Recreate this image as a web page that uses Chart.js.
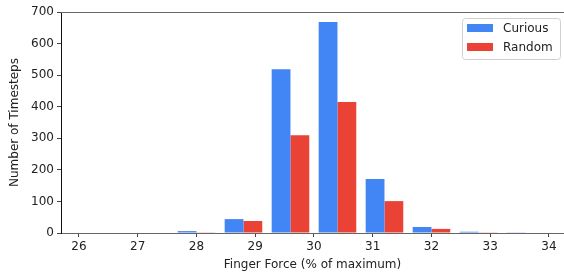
<!DOCTYPE html>
<html>
<head>
<meta charset="utf-8">
<script src="https://cdn.jsdelivr.net/npm/chart.js@4/dist/chart.umd.min.js"></script>
<style>
  html, body { margin: 0; padding: 0; background: #fff; }
  #wrap { width: 564px; height: 278px; }
</style>
</head>
<body>
<div id="wrap"><canvas id="myChart" width="564" height="278"></canvas></div>
<script>
// histogram bin centres (finger force, % of max)
const bins = [26.4, 27.2, 28.0, 28.8, 29.6, 30.4, 31.2, 32.0, 32.8, 33.6];
const curious = [0, 0, 6, 44, 519, 668, 171, 19, 4, 1];
const random = [0, 0, 1, 38, 310, 415, 101, 13, 1, 0];
const seriesNames = ['Curious', 'Random'];
const yTicks = [0, 100, 200, 300, 400, 500, 600, 700];

const FONT = 'DejaVu Sans';

function toPoints(values) {
    return bins.map((b, i) => ({ x: b, y: values[i] }));
}

// top spine + legend box inside the plot, matplotlib style
const frameAndLegend = {
    id: 'frameAndLegend',
    afterDraw(chart) {
        const ctx = chart.ctx;
        const area = chart.chartArea;
        ctx.save();
        ctx.strokeStyle = '#666';
        ctx.lineWidth = 1;
        ctx.beginPath();
        ctx.moveTo(area.left, area.top + 0.5);
        ctx.lineTo(area.right, area.top + 0.5);
        ctx.stroke();

        const bx = 462, by = 18, bw = 98, bh = 41;
        ctx.fillStyle = 'rgba(255,255,255,0.8)';
        ctx.strokeStyle = '#d0d0d0';
        ctx.beginPath();
        ctx.roundRect(bx + 0.5, by + 0.5, bw, bh, 3);
        ctx.fill();
        ctx.stroke();

        ctx.font = '12px "' + FONT + '"';
        ctx.textBaseline = 'middle';
        chart.data.datasets.forEach((ds, i) => {
            const y = by + 6 + i * 19;
            ctx.fillStyle = ds.backgroundColor;
            ctx.fillRect(bx + 5, y, 26, 8);
            ctx.fillStyle = '#222';
            ctx.fillText(ds.label, bx + 41, y + 4.5);
        });
        ctx.restore();
    }
};

const ctx = document.getElementById('myChart').getContext('2d');
const myChart = new Chart(ctx, {
    type: 'bar',
    data: {
        datasets: [{
            label: seriesNames[0],
            data: toPoints(curious),
            backgroundColor: '#4285F4',
            categoryPercentage: 0.8,
            barPercentage: 1.0
        }, {
            label: seriesNames[1],
            data: toPoints(random),
            backgroundColor: '#EA4335',
            categoryPercentage: 0.8,
            barPercentage: 1.0
        }]
    },
    options: {
        responsive: false,
        animation: false,
        layout: { padding: { top: 12, right: 0, left: 0, bottom: 0 } },
        plugins: {
            legend: { display: false },
            tooltip: { enabled: false }
        },
        scales: {
            x: {
                type: 'linear',
                offset: false,
                min: 25.694,
                max: 34.256,
                afterFit: (scale) => { scale.height = 45; },
                ticks: {
                    stepSize: 1,
                    includeBounds: false,
                    padding: 3,
                    color: '#222',
                    font: { family: FONT, size: 12 }
                },
                grid: {
                    offset: false,
                    drawOnChartArea: false,
                    drawTicks: true,
                    tickLength: 4,
                    tickColor: '#444'
                },
                border: { color: '#666', width: 1 },
                title: {
                    display: true,
                    text: 'Finger Force (% of maximum)',
                    color: '#222',
                    font: { family: FONT, size: 12 },
                    padding: { top: 0, bottom: 6 }
                }
            },
            y: {
                min: 0,
                max: 700,
                afterFit: (scale) => { scale.width = 61; },
                afterBuildTicks: (scale) => { scale.ticks = yTicks.map(v => ({ value: v })); },
                ticks: {
                    padding: 3,
                    color: '#222',
                    font: { family: FONT, size: 12 }
                },
                grid: {
                    drawOnChartArea: false,
                    drawTicks: true,
                    tickLength: 4,
                    tickColor: '#444'
                },
                border: { color: '#111', width: 1 },
                title: {
                    display: true,
                    text: 'Number of Timesteps',
                    color: '#222',
                    font: { family: FONT, size: 12 },
                    padding: { top: 8, bottom: 0 }
                }
            }
        }
    },
    plugins: [frameAndLegend]
});
</script>
</body>
</html>
